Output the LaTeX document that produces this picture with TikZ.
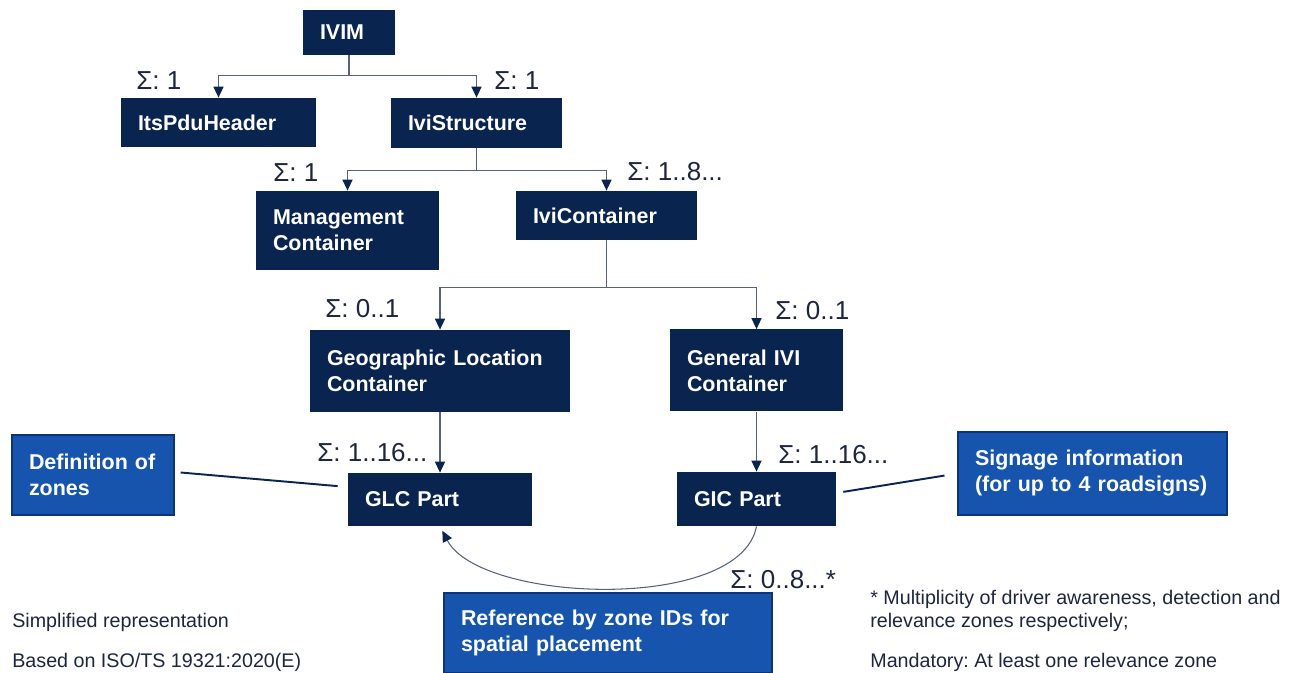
\documentclass[tikz,border=0pt]{standalone}
\usepackage{fontspec}
\setmainfont{Liberation Sans}
\usetikzlibrary{arrows.meta}
\frenchspacing
\definecolor{navy}{RGB}{10,36,80}
\definecolor{midblue}{RGB}{22,84,174}
\definecolor{edgeblue}{RGB}{14,52,120}
\definecolor{wire}{RGB}{84,98,126}
\definecolor{ink}{RGB}{30,38,62}
\tikzset{
	navybox/.style 2 args={fill=navy, text=white, font=\fontsize{12.2}{14.8}\selectfont\bfseries, align=left, inner xsep=0.34cm, inner ysep=0pt, text width=#1cm-0.68cm, minimum height=#2cm},
	bluebox/.style 2 args={navybox={#1}{#2}, fill=midblue, draw=edgeblue, line width=0.8pt},
	mult/.style={text=ink, font=\fontsize{14.8}{17}\selectfont, inner sep=0pt, anchor=west},
	foot/.style={text=ink, font=\fontsize{11.2}{13.1}\selectfont, inner sep=0pt, anchor=base west},
	arr/.style={draw=wire, line width=0.8pt, -{Triangle[length=0.22cm, width=0.2cm, color=navy]}},
	link/.style={draw=navy, line width=1.1pt}
}
\begin{document}
\begin{tikzpicture}
\useasboundingbox[fill=white] (0, 0) rectangle (25.96, 13.46);

\draw (6.98, 12.81) node[navybox={1.84}{0.9}] (ivim) {IVIM};
\draw (4.37, 11.01) node[navybox={3.9}{0.98}] (header) {ItsPduHeader};
\draw (9.53, 11.0) node[navybox={3.42}{1.0}] (structure) {IviStructure};
\draw (6.95, 8.85) node[navybox={3.66}{1.58}] (mgmt) {Management\\Container};
\draw (12.13, 9.15) node[navybox={3.62}{0.98}] (ivicont) {IviContainer};
\draw (8.8, 6.04) node[navybox={5.2}{1.64}] (geo) {Geographic Location\\Container};
\draw (15.13, 6.05) node[navybox={3.46}{1.64}] (general) {General IVI\\Container};
\draw (8.8, 3.47) node[navybox={3.68}{1.06}] (glcpart) {GLC Part};
\draw (15.13, 3.48) node[navybox={3.18}{1.08}] (gicpart) {GIC Part};

\draw (1.86, 3.96) node[bluebox={3.24}{1.6}] (zones) {Definition of\\zones};
\draw (21.85, 3.99) node[bluebox={5.38}{1.66}] (signage) {Signage information\\(for up to 4 roadsigns)};
\draw (12.16, 0.8) node[bluebox={6.56}{1.6}] (reference) {Reference by zone IDs for\\spatial placement};

\draw[arr] (ivim.south) -- ++(0, -0.4) -| (header.north);
\draw[arr] (ivim.south) -- ++(0, -0.4) -| (structure.north);
\draw[arr] (structure.south) -- ++(0, -0.44) -| (mgmt.north);
\draw[arr] (structure.south) -- ++(0, -0.44) -| (ivicont.north);
\draw[arr] (ivicont.south) -- ++(0, -0.94) -| (geo.north);
\draw[arr] (ivicont.south) -- ++(0, -0.94) -| (general.north);
\draw[arr] (geo.south) -- (glcpart.north);
\draw[arr] (general.south) -- (gicpart.north);

\draw[link, shorten <=0.12cm, shorten >=0.2cm] ([yshift=0.06cm]zones.east) -- ([yshift=0.25cm]glcpart.west);
\draw[link, shorten <=0.14cm, shorten >=0.26cm] ([yshift=0.12cm]gicpart.east) -- (signage.west);
\draw[arr, line width=0.6pt, shorten >=0.1cm] (gicpart.south) .. controls (14.8, 1.2) and (9.6, 1.4) .. (glcpart.south);

\draw (2.72, 11.84) node[mult] (m1) {Σ: 1};
\draw (9.88, 11.84) node[mult] (m2) {Σ: 1};
\draw (5.46, 10.0) node[mult] (m3) {Σ: 1};
\draw (12.54, 10.02) node[mult] (m4) {Σ: 1..8...};
\draw (6.5, 7.28) node[mult] (m5) {Σ: 0..1};
\draw (15.5, 7.24) node[mult] (m6) {Σ: 0..1};
\draw (6.34, 4.4) node[mult] (m7) {Σ: 1..16...};
\draw (15.56, 4.36) node[mult] (m8) {Σ: 1..16...};
\draw (14.6, 1.86) node[mult] (m9) {Σ: 0..8...*};

\draw (0.24, 0.9) node[foot] (simpl) {Simplified representation};
\draw (0.24, 0.1) node[foot] (based) {Based on ISO/TS 19321:2020(E)};
\draw (17.4, 1.36) node[foot] (star) {* Multiplicity of driver awareness, detection and};
\draw (17.4, 0.9) node[foot] (resp) {relevance zones respectively;};
\draw (17.4, 0.1) node[foot] (mandatory) {Mandatory: At least one relevance zone};
\end{tikzpicture}
\end{document}
